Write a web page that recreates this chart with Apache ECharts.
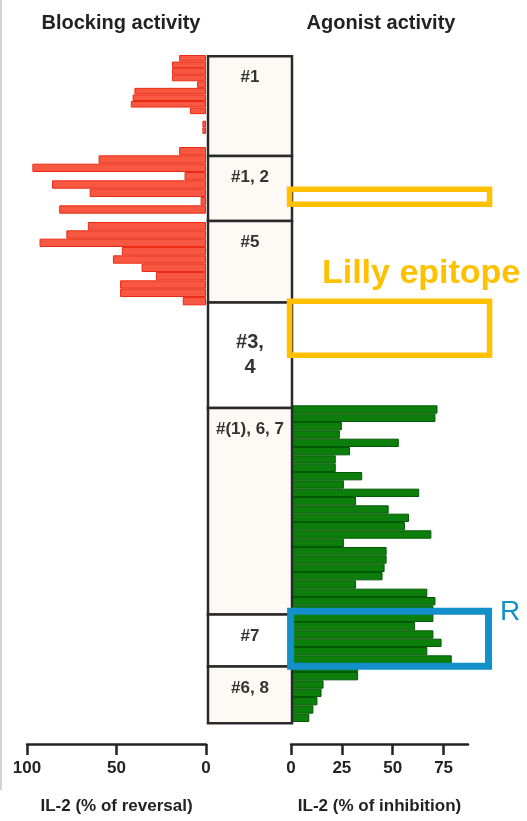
<!DOCTYPE html>
<html><head><meta charset="utf-8">
<script src="https://cdn.jsdelivr.net/npm/echarts@6/dist/echarts.min.js"></script>
<style>html,body{margin:0;padding:0;background:#fff}#c{width:527px;height:821px}</style>
</head><body><div id="c"></div>
<script>
// ---- data ----
// Blocking activity (% of reversal), rows of epitope bin #1 (finer row spacing in the figure)
const blockingFine = [15, 19, 19, 19, 5, 40, 41, 42, 9, 0, 2, 2, 0, 0];
// Blocking activity, remaining rows (69 rows)
const blockingRows = [15, 60, 97, 12, 86, 65, 3, 82, 0, 66, 78, 93, 47, 52, 36, 28, 48, 48, 13,
  0,0,0,0,0,0,0,0,0,0, 0,0,0,0,0,0,0,0,0,0, 0,0,0,0,0,0,0,0,0,0,
  0,0,0,0,0,0,0,0,0,0, 0,0,0,0,0,0,0,0,0,0];
// Agonist activity (% of inhibition), same 69 rows
const agonistRows = [0,0,0,0,0,0,0,0,0,0, 0,0,0,0,0,0,0,0,0,0, 0,0,0,0,0,0,0,0,0,0, 0,
  72, 71, 25, 24, 53, 29, 22, 22, 35, 26,
  63, 32, 48, 58, 56, 69, 26, 47, 47, 46,
  45, 32, 67, 71, 70, 70, 61, 70, 74, 67,
  79, 33, 33, 16, 15, 13, 11, 9];
// Epitope bins (middle column) and their row extents
const binLabels = ['#1', '#1, 2', '#5', '#3,\n4', '#(1), 6, 7', '#7', '#6, 8'];
const binEdges = [-10.85, 1.1, 8.9, 18.7, 31.35, 56.1, 62.35, 69.15];
// Axis ticks
const blockingTicks = [0, 50, 100];
const agonistTicks = [0, 25, 50, 75];
// Annotations (x in % of inhibition, y in rows)
const epitopeBoxes = [[-0.7, 97.6, 5.06, 6.86], [-0.7, 97.6, 18.5, 25.0]];
const rBoxes = [[-0.2, 97.1, 55.7, 62.3]];
const annotationTexts = ['Lilly epitope', 'R'];
const annotationAnchors = [[15.2, 15.25], [102.7, 55.85]];

// ---- chart ----
const FONT = '"Liberation Sans", Arial, Helvetica, sans-serif';
const rowCats = n => Array.from({length: n}, (_, i) => String(i));
const nz = arr => arr.map(v => (v === 0 ? '-' : v));

const chart = echarts.init(document.getElementById('c'), null, {renderer: 'canvas'});

const axisCommon = {
  axisLine: {show: true, onZero: false, lineStyle: {color: '#222', width: 2.5}},
  axisTick: {show: true, inside: false, length: 11, lineStyle: {color: '#222', width: 2.5}},
  axisLabel: {show: true, margin: 16, color: '#222', fontSize: 17, fontWeight: 'bold', fontFamily: FONT},
  splitLine: {show: false},
  nameLocation: 'middle',
  nameGap: 54,
  nameTextStyle: {color: '#222', fontSize: 17, fontWeight: 'bold', fontFamily: FONT}
};

const redStyle = {color: '#f85842', borderColor: '#ea2a14', borderWidth: 1};
const greenStyle = {color: '#0c7e0c', borderColor: '#035803', borderWidth: 1};

const option = {
  animation: false,
  backgroundColor: '#ffffff',
  title: [
    {text: 'Blocking activity', left: 116, top: 8, textAlign: 'center',
     textStyle: {fontSize: 20, fontWeight: 'bold', color: '#222', fontFamily: FONT}},
    {text: 'Agonist activity', left: 376, top: 8, textAlign: 'center',
     textStyle: {fontSize: 20, fontWeight: 'bold', color: '#222', fontFamily: FONT}}
  ],
  graphic: [
    {type: 'line', shape: {x1: 1, y1: 0, x2: 1, y2: 790}, style: {stroke: '#c4c4c4', lineWidth: 1.5}, silent: true}
  ],
  grid: [
    {left: 27, width: 179, top: 55, height: 92},
    {left: 27, width: 179, top: 147, height: 575},
    {left: 208, width: 84, top: 55, height: 667},
    {left: 291, width: 177, top: 147, height: 575}
  ],
  xAxis: [
    {gridIndex: 0, type: 'value', min: 0, max: 100, inverse: true, show: false},
    Object.assign({}, axisCommon, {
      gridIndex: 1, type: 'value', min: 0, max: 100, interval: 50, inverse: true,
      position: 'bottom', offset: 22, name: 'IL-2 (% of reversal)',
      axisTick: Object.assign({}, axisCommon.axisTick, {customValues: blockingTicks}),
      axisLabel: Object.assign({}, axisCommon.axisLabel, {customValues: blockingTicks})
    }),
    {gridIndex: 2, type: 'value', min: 0, max: 1, show: false},
    Object.assign({}, axisCommon, {
      gridIndex: 3, type: 'value', min: 0, max: 87,
      position: 'bottom', offset: 22, name: 'IL-2 (% of inhibition)',
      axisTick: Object.assign({}, axisCommon.axisTick, {customValues: agonistTicks}),
      axisLabel: Object.assign({}, axisCommon.axisLabel, {customValues: agonistTicks})
    })
  ],
  yAxis: [
    {gridIndex: 0, type: 'category', data: rowCats(blockingFine.length), inverse: true, show: false},
    {gridIndex: 1, type: 'category', data: rowCats(blockingRows.length), inverse: true, show: false},
    {gridIndex: 2, type: 'value', min: -11, max: 69, inverse: true, show: false},
    {gridIndex: 3, type: 'category', data: rowCats(agonistRows.length), inverse: true, show: false},
    {gridIndex: 3, type: 'value', min: 0, max: 69, inverse: true, show: false}
  ],
  series: [
    {type: 'bar', xAxisIndex: 0, yAxisIndex: 0, data: nz(blockingFine),
     barCategoryGap: '0%', itemStyle: redStyle, silent: true},
    {type: 'bar', xAxisIndex: 1, yAxisIndex: 1, data: nz(blockingRows),
     barCategoryGap: '0%', itemStyle: redStyle, silent: true},
    {type: 'bar', xAxisIndex: 3, yAxisIndex: 3, data: nz(agonistRows),
     barCategoryGap: '0%', itemStyle: greenStyle, silent: true},
    {type: 'custom', xAxisIndex: 2, yAxisIndex: 2, silent: true, z: 5,
     data: binLabels.map((_, i) => [binEdges[i], binEdges[i + 1]]),
     renderItem: function (params, api) {
       const i = params.dataIndex;
       const p0 = api.coord([0, api.value(0)]);
       const p1 = api.coord([1, api.value(1)]);
       const x = p0[0], y = p0[1], w = p1[0] - p0[0], h = p1[1] - p0[1];
       const centered = binLabels[i].indexOf('\n') >= 0;
       const fill = (i === 3 || i === 5) ? '#ffffff' : '#fdf9f4';
       return {type: 'group', children: [
         {type: 'rect', shape: {x: x, y: y, width: w, height: h},
          style: {fill: fill, stroke: '#2a2a2a', lineWidth: 2.5}},
         {type: 'text', style: {
           text: binLabels[i], x: x + w / 2, y: centered ? y + h / 2 : y + 9,
           align: 'center', verticalAlign: centered ? 'middle' : 'top',
           font: centered ? 'bold 20px ' + FONT : 'bold 17px ' + FONT,
           lineHeight: 25, fill: '#333'}}
       ]};
     }},
    {type: 'custom', xAxisIndex: 3, yAxisIndex: 4, silent: true, z: 10,
     data: epitopeBoxes.concat(rBoxes),
     renderItem: function (params, api) {
       const isR = params.dataIndex >= epitopeBoxes.length;
       const p0 = api.coord([api.value(0), api.value(2)]);
       const p1 = api.coord([api.value(1), api.value(3)]);
       return {type: 'rect', shape: {x: p0[0], y: p0[1], width: p1[0] - p0[0], height: p1[1] - p0[1]},
         style: {fill: 'none', stroke: isR ? '#138fc9' : '#ffc000', lineWidth: isR ? 7 : 5.5}};
     }},
    {type: 'custom', xAxisIndex: 3, yAxisIndex: 4, silent: true, z: 11,
     data: annotationAnchors,
     renderItem: function (params, api) {
       const i = params.dataIndex;
       const p = api.coord([api.value(0), api.value(1)]);
       return {type: 'text', style: {
         text: annotationTexts[i], x: p[0], y: p[1], align: 'left', verticalAlign: 'middle',
         font: i === 0 ? 'bold 34px ' + FONT : '28px ' + FONT,
         fill: i === 0 ? '#ffc000' : '#138fc9'}};
     }}
  ]
};
chart.setOption(option);
</script>
</body></html>
